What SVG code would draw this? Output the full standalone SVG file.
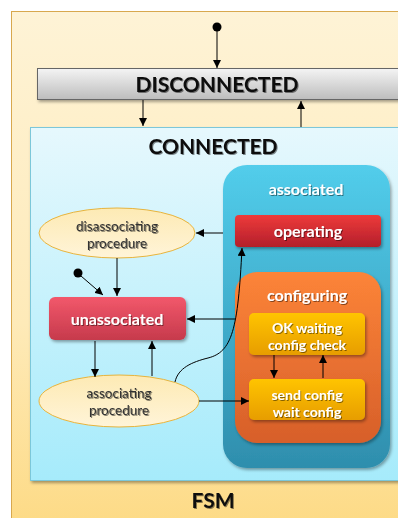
<svg xmlns="http://www.w3.org/2000/svg" width="398" height="518" viewBox="0 0 398 518">
  <defs>
    <linearGradient id="gFsm" x1="0" y1="0" x2="0" y2="1">
      <stop offset="0" stop-color="#fef3d6"/>
      <stop offset="0.6" stop-color="#feeab8"/>
      <stop offset="1" stop-color="#fdda84"/>
    </linearGradient>
    <linearGradient id="gDisc" x1="0" y1="0" x2="0" y2="1">
      <stop offset="0" stop-color="#f4f4f4"/>
      <stop offset="1" stop-color="#bdbdbd"/>
    </linearGradient>
    <linearGradient id="gConn" x1="0" y1="0" x2="0" y2="1">
      <stop offset="0" stop-color="#e6f8fd"/>
      <stop offset="1" stop-color="#a6ebfb"/>
    </linearGradient>
    <linearGradient id="gEll" x1="0" y1="0" x2="0" y2="1">
      <stop offset="0" stop-color="#fdeab4"/>
      <stop offset="1" stop-color="#fff4d8"/>
    </linearGradient>
    <linearGradient id="gUna" x1="0" y1="0" x2="0" y2="1">
      <stop offset="0" stop-color="#f2586b"/>
      <stop offset="1" stop-color="#c63a4c"/>
    </linearGradient>
    <linearGradient id="gAss" x1="0" y1="0" x2="0" y2="1">
      <stop offset="0" stop-color="#52cdeb"/>
      <stop offset="1" stop-color="#2e8ead"/>
    </linearGradient>
    <linearGradient id="gOp" x1="0" y1="0" x2="0" y2="1">
      <stop offset="0" stop-color="#ee3a3a"/>
      <stop offset="1" stop-color="#b31f2b"/>
    </linearGradient>
    <linearGradient id="gCfg" x1="0" y1="0" x2="0" y2="1">
      <stop offset="0" stop-color="#fc8438"/>
      <stop offset="1" stop-color="#d75f2a"/>
    </linearGradient>
    <linearGradient id="gSub" x1="0" y1="0" x2="0" y2="1">
      <stop offset="0" stop-color="#ffc400"/>
      <stop offset="1" stop-color="#e79d00"/>
    </linearGradient>
    <filter id="shadow" x="-10%" y="-10%" width="125%" height="130%">
      <feDropShadow dx="1.5" dy="2" stdDeviation="1.5" flood-color="#000" flood-opacity="0.35"/>
    </filter>
    <filter id="tshadow" x="-10%" y="-30%" width="125%" height="170%">
      <feDropShadow dx="1" dy="1" stdDeviation="0.7" flood-color="#000" flood-opacity="0.45"/>
    </filter>
    <marker id="arr" viewBox="0 0 10 10" refX="10" refY="5" markerWidth="8" markerHeight="8" markerUnits="userSpaceOnUse" orient="auto">
      <path d="M0,0 L10,5 L0,10 Z" fill="#000"/>
    </marker>
  </defs>
  <style>
    text { font-family: Lato, "Open Sans", "Liberation Sans", sans-serif; text-anchor: middle; }
    .title { font-size: 21px; font-weight: bold; fill: #111; filter: url(#tshadow); }
    .wlab { font-size: 16px; font-weight: bold; fill: #fff; filter: url(#tshadow); }
    .wsmall { font-size: 14px; font-weight: bold; fill: #fff; filter: url(#tshadow); }
    .dlab { font-size: 13.5px; fill: #333; filter: url(#tshadow); }
    .edge { fill: none; stroke: #000; stroke-width: 1; }
    .tip { marker-end: url(#arr); }
  </style>

  <!-- outer FSM region -->
  <g id="fsm">
    <rect x="11.5" y="11.5" width="400" height="520" fill="url(#gFsm)" stroke="#d8a84e" stroke-width="1"/>
    <text class="title" x="213" y="508">FSM</text>
  </g>

  <g id="disconnected">
    <rect x="37.5" y="68.5" width="365" height="31" fill="url(#gDisc)" stroke="#666" stroke-width="1" filter="url(#shadow)"/>
    <text class="title" x="217" y="92">DISCONNECTED</text>
  </g>

  <g id="connected">
    <rect x="30.5" y="127.5" width="375" height="353" fill="url(#gConn)" stroke="#7cc7d9" stroke-width="1" filter="url(#shadow)"/>
    <text class="title" x="213" y="154">CONNECTED</text>
  </g>

  <g id="initial-top">
    <circle cx="217" cy="27" r="4.5" fill="#000"/>
  </g>

  <g id="initial-inner">
    <circle cx="78" cy="273" r="4.5" fill="#000"/>
  </g>

  <g id="disassociating">
    <ellipse cx="117" cy="233" rx="78" ry="25" fill="url(#gEll)" stroke="#e7b43d" stroke-width="1"/>
    <text class="dlab" x="117" y="231">disassociating</text>
    <text class="dlab" x="117" y="248">procedure</text>
  </g>

  <g id="unassociated">
    <rect x="49" y="297" width="137" height="43" rx="6" fill="url(#gUna)" filter="url(#shadow)"/>
    <text class="wlab" x="117" y="325">unassociated</text>
  </g>

  <g id="associating">
    <ellipse cx="119" cy="401" rx="80" ry="26" fill="url(#gEll)" stroke="#e7b43d" stroke-width="1"/>
    <text class="dlab" x="119" y="398">associating</text>
    <text class="dlab" x="119" y="415">procedure</text>
  </g>

  <g id="associated">
    <rect x="223" y="165" width="167" height="303" rx="24" fill="url(#gAss)" filter="url(#shadow)"/>
    <text class="wlab" x="306" y="195">associated</text>
  </g>

  <g id="operating">
    <rect x="235" y="215" width="146" height="32" rx="4" fill="url(#gOp)" filter="url(#shadow)"/>
    <text class="wlab" x="308" y="237">operating</text>
  </g>

  <g id="configuring">
    <rect x="235" y="272" width="146" height="171" rx="22" fill="url(#gCfg)" filter="url(#shadow)"/>
    <text class="wlab" x="307" y="301">configuring</text>
  </g>

  <g id="ok-waiting">
    <rect x="249" y="313" width="116" height="42" rx="5" fill="url(#gSub)" filter="url(#shadow)"/>
    <text class="wsmall" x="307" y="333">OK waiting</text>
    <text class="wsmall" x="307" y="350">config check</text>
  </g>

  <g id="send-config">
    <rect x="249" y="379" width="116" height="41" rx="5" fill="url(#gSub)" filter="url(#shadow)"/>
    <text class="wsmall" x="307" y="400">send config</text>
    <text class="wsmall" x="307" y="417">wait config</text>
  </g>

  <!-- transitions -->
  <g id="connectors">
    <line class="edge tip" x1="217" y1="31" x2="217" y2="68"/>
    <line class="edge tip" x1="143" y1="100" x2="143" y2="126"/>
    <line class="edge tip" x1="301" y1="127" x2="301" y2="101"/>
    <line class="edge tip" x1="223" y1="233" x2="196" y2="233"/>
    <line class="edge tip" x1="81" y1="276" x2="103" y2="295"/>
    <line class="edge tip" x1="117" y1="258" x2="117" y2="296"/>
    <line class="edge tip" x1="235" y1="319" x2="187" y2="319"/>
    <line class="edge tip" x1="95" y1="341" x2="95" y2="377"/>
    <line class="edge tip" x1="152" y1="376" x2="152" y2="341"/>
    <path class="edge tip" d="M175,382 C178,368 192,362 208,358 C232,352 238,330 242,248"/>
    <line class="edge tip" x1="199" y1="401" x2="249" y2="401"/>
    <line class="edge tip" x1="274" y1="355" x2="274" y2="378"/>
    <line class="edge tip" x1="323" y1="378" x2="323" y2="355"/>
  </g>
</svg>
